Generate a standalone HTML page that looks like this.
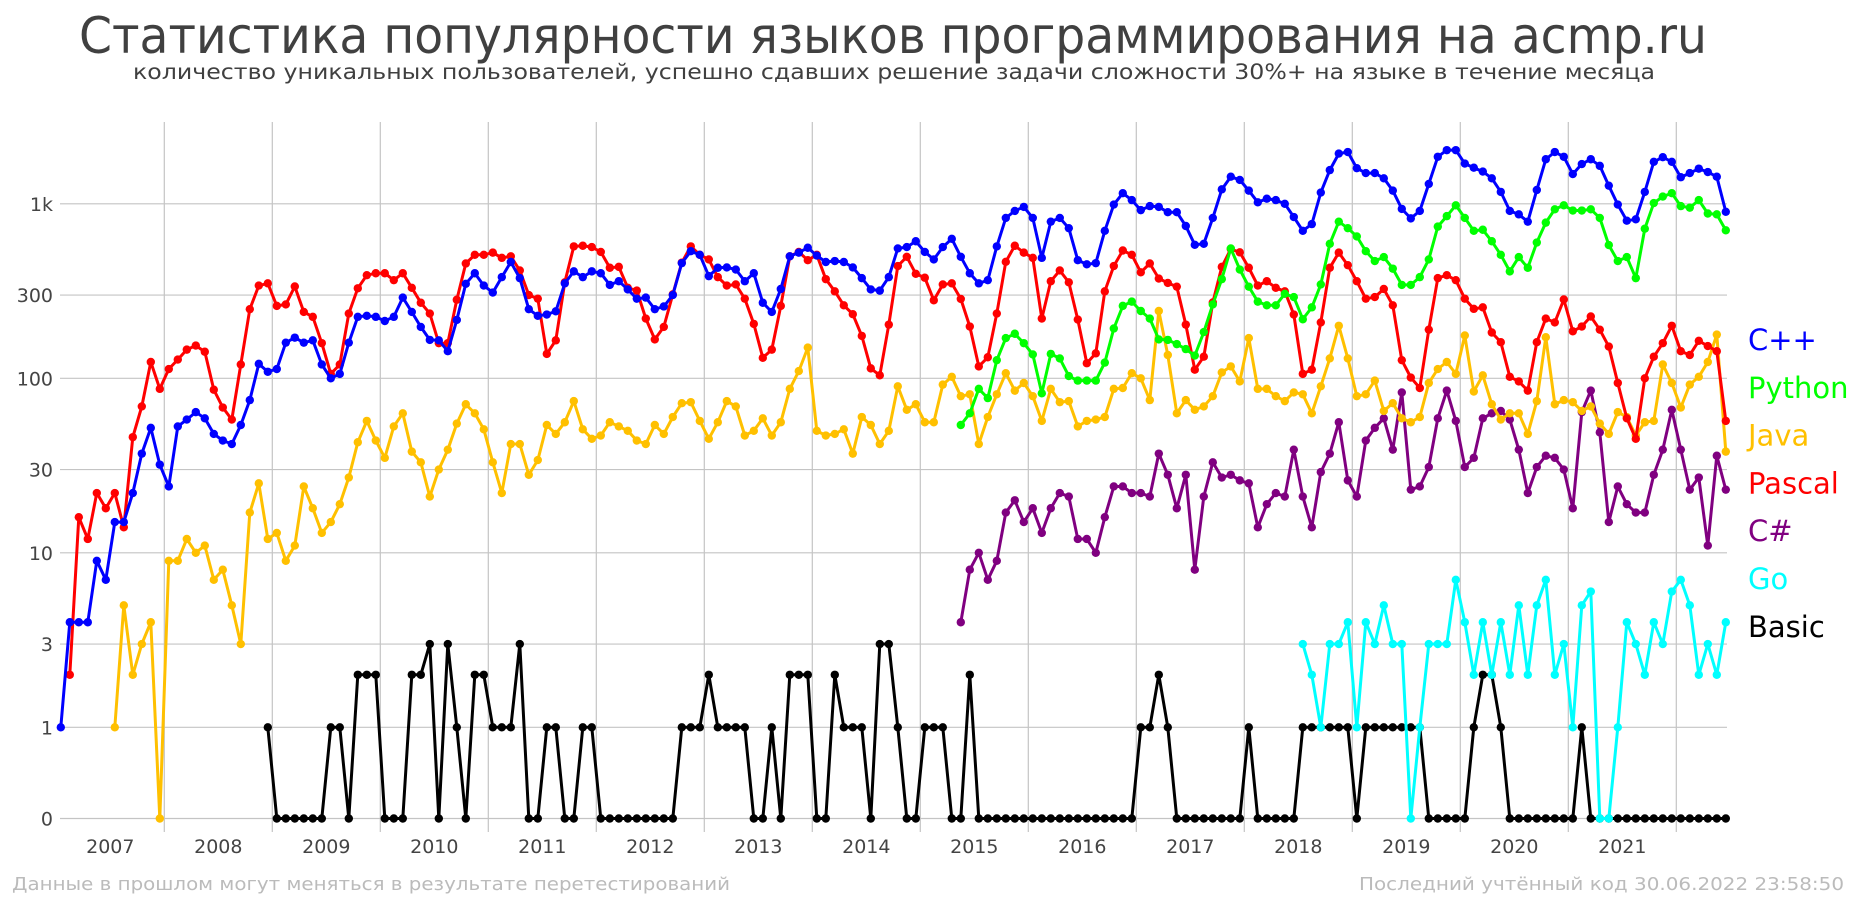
<!DOCTYPE html>
<html><head><meta charset="utf-8">
<style>
html,body{margin:0;padding:0;background:#fff;}
svg{display:block;font-family:"DejaVu Sans","Liberation Sans",sans-serif;}
</style></head>
<body>
<svg id="chart" width="1856" height="900" viewBox="0 0 1856 900" xmlns="http://www.w3.org/2000/svg">
<text x="893" y="53" text-anchor="middle" font-size="50" fill="#404040" textLength="1628" lengthAdjust="spacingAndGlyphs">Статистика популярности языков программирования на acmp.ru</text>
<text x="894" y="79" text-anchor="middle" font-size="21" fill="#404040" textLength="1522" lengthAdjust="spacingAndGlyphs">количество уникальных пользователей, успешно сдавших решение задачи сложности 30%+ на языке в течение месяца</text>
<g id="grid"></g>
<g id="series"></g>
<g id="legend"></g>
<text x="12" y="890" font-size="18" fill="#bbbbbb" textLength="718" lengthAdjust="spacingAndGlyphs">Данные в прошлом могут меняться в результате перетестирований</text>
<text x="1844" y="890" text-anchor="end" font-size="18" fill="#bbbbbb" textLength="485" lengthAdjust="spacingAndGlyphs">Последний учтённый код 30.06.2022 23:58:50</text>
</svg>
<script>
const yearLabels = ["2007","2008","2009","2010","2011","2012","2013","2014","2015","2016","2017","2018","2019","2020","2021"];
const yTicks = [0,1,3,10,30,100,300,1000];
const yTickLabels = ["0","1","3","10","30","100","300","1k"];
const seriesNames = ["C++","Python","Java","Pascal","C#","Go","Basic"];
const seriesColors = ["#0000ff","#00ff00","#ffc000","#ff0000","#800080","#00ffff","#000000"];

const cppStart = 0;
const cppValues = [1,4,4,4,9,7,15,15,22,37,52,32,24,53,58,64,59,48,44,42,54,75,121,109,113,160,171,160,165,120,100,106,160,225,228,225,213,225,
290,240,197,166,165,143,216,348,400,340,310,380,464,375,249,228,232,242,350,410,380,410,400,343,360,323,286,290,249,258,300,457,535,510,385,430,432,420,360,400,271,240,325,
500,525,560,505,464,470,464,432,375,323,318,380,555,565,610,530,480,565,630,497,400,350,365,570,830,910,960,830,490,790,830,725,475,450,457,700,990,1150,1050,920,970,960,895,895,
746,582,590,830,1210,1430,1370,1190,1020,1070,1050,1000,840,700,765,1160,1560,1940,1980,1600,1500,1500,1400,1190,935,825,910,1300,1860,2030,2030,1700,1610,1530,1400,1170,910,870,790,1200,1800,1980,1860,1480,
1690,1800,1650,1270,990,800,815,1170,1740,1850,1740,1420,1500,1590,1520,1430,900];

const pascalStart = 1;
const pascalValues = [2,16,12,22,18,22,14,46,69,124,87,113,128,146,154,142,86,68,58,120,249,340,350,260,265,336,240,225,159,106,120,235,328,390,400,400,365,
400,330,271,235,159,159,282,455,510,510,525,490,500,415,300,286,138,165,355,570,575,565,530,430,435,330,318,220,167,197,303,460,570,510,480,380,340,345,286,205,131,146,260,
500,530,475,510,370,315,262,233,175,114,104,203,440,497,397,377,280,345,350,285,198,117,132,235,465,575,525,490,220,360,415,355,217,122,139,315,440,540,510,405,455,373,352,335,
203,112,133,272,435,550,527,430,340,360,330,315,232,106,112,209,430,525,445,360,286,292,325,262,127,101,88,190,375,390,365,286,250,255,183,161,102,96,85,161,220,209,283,186,
198,226,190,152,94,59,45,100,133,159,200,143,136,164,153,143,57];

const javaStart = 6;
const javaValues = [1,5,2,3,4,0,9,9,12,10,11,7,8,5,3,17,25,12,13,9,11,24,18,13,15,19,27,43,57,44,35,53,
63,38,33,21,30,39,55,71,63,51,33,22,42,42,28,34,54,48,56,74,51,45,47,56,53,50,44,42,54,48,60,72,73,57,45,56,74,69,47,50,59,47,56,
87,110,150,50,47,48,51,37,60,54,42,50,90,66,71,56,56,92,102,79,81,42,60,81,107,85,94,79,57,87,73,74,53,57,58,60,87,88,107,100,75,243,136,63,
75,66,69,79,108,117,96,170,87,87,79,74,83,81,63,90,130,200,130,79,81,97,65,72,59,56,60,94,113,124,106,176,84,104,71,58,63,63,48,74,172,71,75,73,
65,69,55,48,64,60,47,56,57,120,94,68,92,102,124,178,38];

const basicStart = 23;
const basicValues = [1,0,0,0,0,0,0,1,1,0,2,2,2,0,0,
0,2,2,3,0,3,1,0,2,2,1,1,1,3,0,0,1,1,0,0,1,1,0,0,0,0,0,0,0,0,0,1,1,1,2,1,1,1,1,0,0,1,0,
2,2,2,0,0,2,1,1,1,0,3,3,1,0,0,1,1,1,0,0,2,0,0,0,0,0,0,0,0,0,0,0,0,0,0,0,0,0,0,1,1,2,1,0,
0,0,0,0,0,0,0,1,0,0,0,0,0,1,1,1,1,1,1,0,1,1,1,1,1,1,1,0,0,0,0,0,1,2,2,1,0,0,0,0,0,0,0,0,
1,0,0,0,0,0,0,0,0,0,0,0,0,0,0,0,0];

const pythonStart = 100;
const pythonValues = [54,63,87,77,127,170,180,159,137,82,138,130,103,97,97,97,123,193,260,275,243,220,167,166,157,
147,135,184,265,370,555,420,335,275,262,262,305,292,218,255,345,590,790,725,650,535,470,495,425,343,343,380,480,740,850,980,830,700,710,610,510,410,495,430,600,780,930,980,915,
915,930,830,580,470,495,375,720,1010,1100,1150,970,950,1050,880,870,705];

const csharpStart = 100;
const csharpValues = [4,8,10,7,9,17,20,15,18,13,18,22,21,12,12,10,16,24,24,22,22,21,37,28,18,
28,8,21,33,27,28,26,25,14,19,22,21,39,21,14,29,37,56,26,21,44,52,59,39,83,23,24,31,59,85,57,31,35,59,63,65,58,39,22,31,36,35,30,18,
64,85,49,15,24,19,17,17,28,39,66,39,23,27,11,36,23];

const goStart = 138;
const goValues = [3,2,1,3,3,4,1,4,3,5,3,3,0,1,3,3,3,7,4,2,4,2,4,2,5,2,5,7,2,3,1,
5,6,0,0,1,4,3,2,4,3,6,7,5,2,3,2,4];

const NS = "http://www.w3.org/2000/svg";
const X0 = 60.8, MONTH = 9, YEAR0 = 56.3;
const Y1 = 727.3, Y0 = 818.5, DEC = 174.5;
const PLOT_L = 60, PLOT_R = 1727, GRID_TOP = 122, GRID_BOT = 832;
function xScale(i){ return X0 + MONTH * i; }
function yScale(v){ return v <= 0 ? Y0 : Y1 - DEC * Math.log10(v); }
function mk(tag, attrs, parent){
  const el = document.createElementNS(NS, tag);
  for (const k in attrs) el.setAttribute(k, attrs[k]);
  parent.appendChild(el);
  return el;
}

const grid = document.getElementById('grid');
yTicks.forEach((t, k) => {
  const y = yScale(t);
  const ln = mk('line', {x1: PLOT_L, x2: PLOT_R, y1: y, y2: y, stroke: '#c4c4c4', 'stroke-width': 1.2}, grid);
  
  
  const tx = mk('text', {x: 53, y: y + 7, 'text-anchor': 'end', 'font-size': 19, fill: '#444'}, grid);
  tx.textContent = yTickLabels[k];
  
  
});
for (let k = 1; k <= yearLabels.length; k++) {
  const x = YEAR0 + 108 * k;
  const ln = mk('line', {x1: x, x2: x, y1: GRID_TOP, y2: GRID_BOT, stroke: '#c4c4c4', 'stroke-width': 1.2}, grid);
  
  
}
yearLabels.forEach((lab, k) => {
  const tx = mk('text', {x: YEAR0 + 108 * k + 54, y: 853, 'text-anchor': 'middle', 'font-size': 19, fill: '#444'}, grid);
  tx.textContent = lab;
  
  
});

const seriesData = [
  {start: cppStart, vals: cppValues},
  {start: pythonStart, vals: pythonValues},
  {start: javaStart, vals: javaValues},
  {start: pascalStart, vals: pascalValues},
  {start: csharpStart, vals: csharpValues},
  {start: goStart, vals: goValues},
  {start: basicStart, vals: basicValues}
];
const seriesLayer = document.getElementById('series');
const drawOrder = [6,5,4,2,3,1,0];
drawOrder.forEach(s => {
  const d = seriesData[s];
  const g = mk('g', {}, seriesLayer);
  
  
  const pts = d.vals.map((v, j) => xScale(d.start + j).toFixed(1) + ',' + yScale(v).toFixed(1)).join(' ');
  const pl = mk('polyline', {points: pts, fill: 'none', stroke: seriesColors[s], 'stroke-width': 3, 'stroke-linejoin': 'round'}, g);
  
  
  d.vals.forEach((v, j) => {
    const c = mk('circle', {cx: xScale(d.start + j), cy: yScale(v), r: 4.2, fill: seriesColors[s]}, g);
    
    
  });
});

const legend = document.getElementById('legend');
seriesNames.forEach((n, k) => {
  const tx = mk('text', {x: 1748, y: 350 + 47.8 * k, 'font-size': 29, fill: seriesColors[k]}, legend);
  tx.textContent = n;
  
  
});
</script>
</body></html>
